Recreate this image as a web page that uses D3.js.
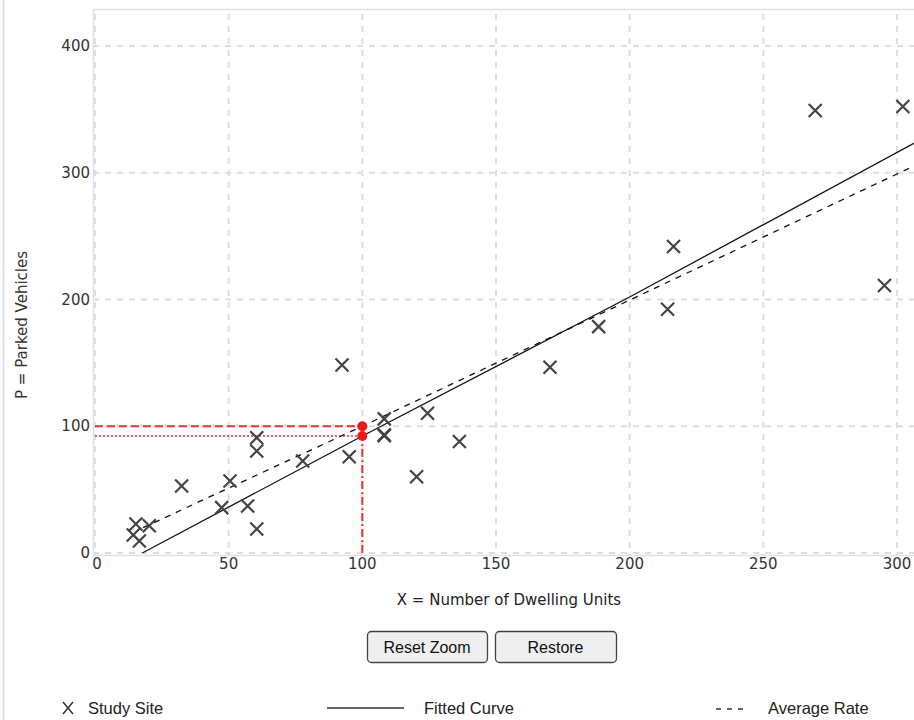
<!DOCTYPE html>
<html>
<head>
<meta charset="utf-8">
<script src="https://cdn.jsdelivr.net/npm/d3@7"></script>
<style>
  body { margin: 0; background: #fff; overflow: hidden; }
  svg { display: block; }
</style>
</head>
<body>
<script>

window.onload = function(){

    // study sites (X = dwelling units, P = parked vehicles)
    const siteX = [14.3, 15.3, 16.6, 20.3, 32.4, 47.4, 50.5, 57.1, 60.5, 60.5, 60.5, 77.7, 92.4, 95.1,
                   108.2, 108.2, 108.2, 120.3, 124.4, 136.3, 170.2, 188.4, 214.2, 216.4, 269.4, 295.3, 302.2];
    const siteY = [14.2, 22.9, 9.5, 21.5, 52.9, 35.8, 56.8, 37.1, 91, 80.5, 18.9, 72.6, 148.4, 76,
                   105.8, 92.6, 93.2, 60.2, 110.3, 87.9, 146.6, 178.6, 192.3, 241.8, 349.1, 211, 352.3];

    // fitted curve and average rate
    const fitX = [17.7, 100, 200, 307];
    const fitY = [0, 92.3, 202, 324];
    const avgX = [18, 100, 307];
    const avgY = [20, 100, 306];

    // reference point at X = 100
    const refX = 100;
    const refFit = 92.3;
    const refAvg = 100;

    const xTicks = [0, 50, 100, 150, 200, 250, 300];
    const yTicks = [0, 100, 200, 300, 400];

    const width = 914;
    const height = 720;
    const font = "'DejaVu Sans', Verdana, sans-serif";

    const xScale = d3.scaleLinear().domain([0, 300]).range([95, 897]);
    const yScale = d3.scaleLinear().domain([0, 400]).range([553, 46]);

    let svg = d3.select('body')
                .append('svg')
                    .attr('width', width)
                    .attr('height', height);

    // page border on the left
    svg.append('line')
        .attr('x1', 3.5).attr('x2', 3.5)
        .attr('y1', 0).attr('y2', height)
        .attr('stroke', '#d5dbe5').attr('stroke-width', 1.5);

    // plot frame
    svg.append('rect')
        .attr('x', 93.5).attr('y', 9.5)
        .attr('width', 840).attr('height', 546)
        .attr('fill', 'none')
        .attr('stroke', '#dde2ea').attr('stroke-width', 1.5);

    // grid
    svg.append('g').selectAll('line')
        .data(xTicks)
        .enter().append('line')
            .attr('x1', d => xScale(d)).attr('x2', d => xScale(d))
            .attr('y1', 14).attr('y2', 555)
            .attr('stroke', '#dedede').attr('stroke-width', 2)
            .attr('stroke-dasharray', '6,6');

    svg.append('g').selectAll('line')
        .data(yTicks)
        .enter().append('line')
            .attr('x1', 93).attr('x2', width)
            .attr('y1', d => yScale(d)).attr('y2', d => yScale(d))
            .attr('stroke', '#dedede').attr('stroke-width', 2)
            .attr('stroke-dasharray', '6,6');

    // tick labels
    svg.append('g').selectAll('text')
        .data(yTicks)
        .enter().append('text')
            .attr('x', 90)
            .attr('y', d => yScale(d) + 5)
            .attr('text-anchor', 'end')
            .attr('font-family', font).attr('font-size', 15)
            .attr('fill', '#333')
            .text(d => d);

    svg.append('g').selectAll('text')
        .data(xTicks)
        .enter().append('text')
            .attr('x', d => d === 0 ? xScale(d) + 2 : xScale(d))
            .attr('y', 569)
            .attr('text-anchor', 'middle')
            .attr('font-family', font).attr('font-size', 15)
            .attr('fill', '#333')
            .text(d => d);

    // axis titles
    svg.append('text')
        .attr('x', 509).attr('y', 605)
        .attr('text-anchor', 'middle')
        .attr('font-family', font).attr('font-size', 15)
        .attr('fill', '#222')
        .text('X = Number of Dwelling Units');

    svg.append('text')
        .attr('transform', 'translate(27,325) rotate(-90)')
        .attr('text-anchor', 'middle')
        .attr('font-family', font).attr('font-size', 15)
        .attr('fill', '#333')
        .text('P = Parked Vehicles');

    let plot = svg.append('g');

    // red reference lines
    plot.append('line')
        .attr('x1', 95).attr('x2', xScale(refX))
        .attr('y1', yScale(refAvg)).attr('y2', yScale(refAvg))
        .attr('stroke', '#f03030').attr('stroke-width', 2)
        .attr('stroke-dasharray', '8,4');
    plot.append('line')
        .attr('x1', 95).attr('x2', xScale(refX))
        .attr('y1', yScale(refFit)).attr('y2', yScale(refFit))
        .attr('stroke', '#f03030').attr('stroke-width', 1.6)
        .attr('stroke-dasharray', '2,2');
    plot.append('line')
        .attr('x1', xScale(refX)).attr('x2', xScale(refX))
        .attr('y1', yScale(0)).attr('y2', yScale(refFit))
        .attr('stroke', '#f03030').attr('stroke-width', 2)
        .attr('stroke-dasharray', '8,3,2,3');

    const line = d3.line()
        .x(d => xScale(d[0]))
        .y(d => yScale(d[1]));

    plot.append('path')
        .datum(fitX.map((x, i) => [x, fitY[i]]))
        .attr('d', line)
        .attr('fill', 'none')
        .attr('stroke', '#111').attr('stroke-width', 1.3);

    plot.append('path')
        .datum(avgX.map((x, i) => [x, avgY[i]]))
        .attr('d', line)
        .attr('fill', 'none')
        .attr('stroke', '#111').attr('stroke-width', 1.3)
        .attr('stroke-dasharray', '6,6');

    // study site markers
    const s = 6.5;
    const cross = `M${-s},${-s}L${s},${s}M${-s},${s}L${s},${-s}`;
    plot.selectAll('path.site')
        .data(siteX.map((x, i) => [x, siteY[i]]))
        .enter().append('path')
            .attr('class', 'site')
            .attr('transform', d => `translate(${xScale(d[0])},${yScale(d[1])})`)
            .attr('d', cross)
            .attr('fill', 'none')
            .attr('stroke', '#444').attr('stroke-width', 2.2);

    // red dots
    plot.selectAll('circle')
        .data([refAvg, refFit])
        .enter().append('circle')
            .attr('cx', xScale(refX))
            .attr('cy', d => yScale(d))
            .attr('r', 5)
            .attr('fill', '#f01818');

    // buttons
    const buttons = [
        {label: 'Reset Zoom', x: 367, w: 120},
        {label: 'Restore', x: 495, w: 121}
    ];
    let btn = svg.selectAll('g.btn')
        .data(buttons)
        .enter().append('g')
            .attr('class', 'btn');
    btn.append('rect')
        .attr('x', d => d.x + 0.5).attr('y', 631.5)
        .attr('width', d => d.w).attr('height', 31)
        .attr('rx', 4)
        .attr('fill', '#efefef')
        .attr('stroke', '#444').attr('stroke-width', 1.3);
    btn.append('text')
        .attr('x', d => d.x + d.w / 2).attr('y', 653)
        .attr('text-anchor', 'middle')
        .attr('font-family', "'Liberation Sans', Arial, sans-serif").attr('font-size', 16)
        .attr('fill', '#111')
        .text(d => d.label);

    // legend
    const legendFont = "'Liberation Sans', Arial, sans-serif";
    let legend = svg.append('g');
    legend.append('path')
        .attr('transform', 'translate(68,708)')
        .attr('d', 'M-5,-6L5,6M-5,6L5,-6')
        .attr('fill', 'none')
        .attr('stroke', '#333').attr('stroke-width', 1.5);
    legend.append('text')
        .attr('x', 88).attr('y', 714)
        .attr('font-family', legendFont).attr('font-size', 16.5)
        .attr('fill', '#222')
        .text('Study Site');

    legend.append('line')
        .attr('x1', 327).attr('x2', 404)
        .attr('y1', 708).attr('y2', 708)
        .attr('stroke', '#333').attr('stroke-width', 1.3);
    legend.append('text')
        .attr('x', 424).attr('y', 714)
        .attr('font-family', legendFont).attr('font-size', 16.5)
        .attr('fill', '#222')
        .text('Fitted Curve');

    legend.append('line')
        .attr('x1', 716).attr('x2', 749)
        .attr('y1', 709).attr('y2', 709)
        .attr('stroke', '#333').attr('stroke-width', 1.3)
        .attr('stroke-dasharray', '5,6');
    legend.append('text')
        .attr('x', 768).attr('y', 714)
        .attr('font-family', legendFont).attr('font-size', 16.5)
        .attr('fill', '#222')
        .text('Average Rate');

};
</script>
</body>
</html>
